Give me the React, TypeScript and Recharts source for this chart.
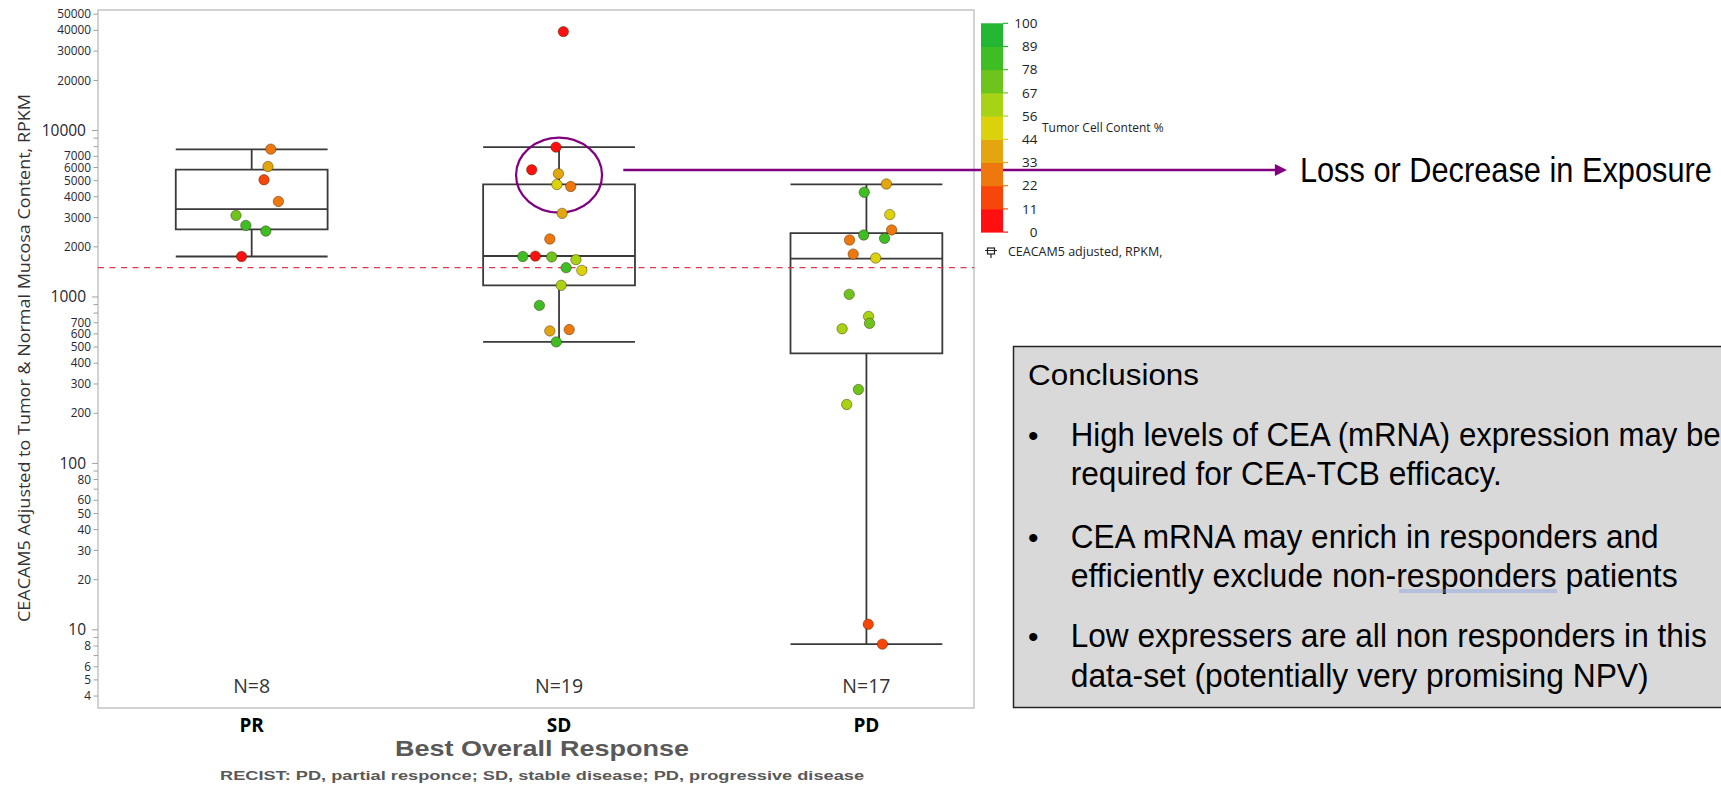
import React from "react";
import {
  ComposedChart,
  Scatter,
  XAxis,
  YAxis,
  ReferenceArea,
  ReferenceLine,
  ReferenceDot,
  Legend,
} from "recharts";

const CATEGORIES = ["PR", "SD", "PD"];

// CEACAM5 adjusted RPKM per patient, tumor cell content % and horizontal jitter (category units)
const PR_VALUES = [7730, 6080, 5060, 3750, 3090, 2690, 2490, 1750];
const PR_TCC = [28, 38, 15, 27, 72, 85, 82, 5];
const PR_JITTER = [0.062, 0.053, 0.04, 0.087, -0.051, -0.019, 0.046, -0.033];

const SD_VALUES = [39300, 7950, 5810, 5500, 4740, 4610, 3180, 2230, 1750, 1760, 1740, 1675, 1500, 1445, 1175, 890, 625, 637, 537];
const SD_TCC = [5, 3, 5, 40, 50, 27, 38, 26, 85, 4, 72, 60, 85, 50, 62, 85, 38, 28, 85];
const SD_JITTER = [0.014, -0.01, -0.089, -0.002, -0.007, 0.038, 0.01, -0.03, -0.118, -0.077, -0.024, 0.055, 0.023, 0.074, 0.007, -0.064, -0.03, 0.033, -0.009];

const PD_VALUES = [4775, 4256, 3126, 2528, 2357, 2250, 2199, 1810, 1714, 1037, 764, 694, 644, 278, 226, 10.8, 8.2];
const PD_TCC = [38, 85, 50, 27, 85, 83, 27, 28, 50, 72, 60, 72, 60, 72, 60, 15, 15];
const PD_JITTER = [0.065, -0.007, 0.076, 0.082, -0.009, 0.059, -0.055, -0.043, 0.03, -0.056, 0.007, 0.01, -0.079, -0.026, -0.064, 0.006, 0.052];

// box plot summaries
const WHISKER_LOW = [1750, 537, 8.2];
const Q1 = [2545, 1174, 458];
const MEDIAN = [3375, 1763, 1698];
const Q3 = [5830, 4743, 2421];
const WHISKER_HIGH = [7700, 7950, 4750];

const THRESHOLD = 1500;

// axis ticks
const Y_TICKS = [
  4, 5, 6, 7, 8, 9, 10, 20, 30, 40, 50, 60, 70, 80, 90, 100, 200, 300, 400, 500, 600, 700, 800, 900,
  1000, 2000, 3000, 4000, 5000, 6000, 7000, 8000, 9000, 10000, 20000, 30000, 40000, 50000,
];
const Y_UNLABELED = [7, 9, 70, 90, 800, 900, 8000, 9000];
const Y_MAJOR = [10, 100, 1000, 10000];

// colour scale for tumor cell content
const TCC_EDGES = [0, 11, 22, 33, 44, 56, 67, 78, 89, 100];
const TCC_COLORS = ["#ff0f0f", "#f8460b", "#ee770e", "#e4a60f", "#dbd20b", "#a8d214", "#6cc41c", "#3ebd25", "#22b632"];

const SANS = '"Open Sans", "Noto Sans", sans-serif';
const NARROW = '"Liberation Sans Narrow", "Liberation Sans", Arial, sans-serif';
const ARIAL = '"Liberation Sans", Arial, sans-serif';

const BOX_HALF = 0.247;

const tccColor = (t: number) => {
  for (let i = 0; i < TCC_COLORS.length; i++) {
    if (t < TCC_EDGES[i + 1]) return TCC_COLORS[i];
  }
  return TCC_COLORS[TCC_COLORS.length - 1];
};

const groups = [
  { values: PR_VALUES, tcc: PR_TCC, jitter: PR_JITTER },
  { values: SD_VALUES, tcc: SD_TCC, jitter: SD_JITTER },
  { values: PD_VALUES, tcc: PD_TCC, jitter: PD_JITTER },
];

const points = groups.flatMap((g, gi) =>
  g.values.map((v, i) => ({ x: gi + 1 + g.jitter[i], y: v, tcc: g.tcc[i] }))
);

const YTick = (props: any) => {
  const { x, y, payload } = props;
  const v = payload.value;
  const major = Y_MAJOR.includes(v);
  return (
    <g>
      <line x1={x - (major ? 6 : 4.5)} x2={x} y1={y} y2={y} stroke="#a0a0a0" strokeWidth={1} />
      {!Y_UNLABELED.includes(v) && (
        <text
          x={x - (major ? 12 : 7)}
          y={y}
          dy="0.35em"
          textAnchor="end"
          fontSize={major ? 15.5 : 11.8}
          fontFamily={SANS}
          fill="#262630"
        >
          {v}
        </text>
      )}
    </g>
  );
};

const XTick = (props: any) => {
  const { x, y, payload } = props;
  return (
    <text x={x} y={y + 17} dy="0.35em" textAnchor="middle" fontSize={19} fontWeight="bold" fontFamily={SANS} fill="#000">
      {CATEGORIES[payload.value - 1]}
    </text>
  );
};

const Dot = (props: any) => {
  const { cx, cy, payload } = props;
  return (
    <circle cx={cx} cy={cy} r={5.2} fill={tccColor(payload.tcc)} stroke="rgba(60,40,0,0.45)" strokeWidth={1} />
  );
};

const ColorBar = () => {
  const top = 23.3;
  const binH = 23.2;
  const n = TCC_COLORS.length;
  return (
    <svg width={260} height={270} style={{ display: "block" }}>
      {TCC_COLORS.map((c, i) => (
        <rect key={"b" + i} x={21} y={top + (n - 1 - i) * binH} width={22} height={binH + 0.5} fill={c} />
      ))}
      {TCC_EDGES.map((e, j) => {
        const yy = top + (n - j) * binH;
        const c = TCC_COLORS[Math.min(j, n - 1)];
        return (
          <g key={"t" + j}>
            <line x1={43} x2={48} y1={yy} y2={yy} stroke={c} strokeWidth={1.2} />
            <text x={77.5} y={yy} dy="0.35em" textAnchor="end" fontSize={13.5} fontFamily={SANS} fill="#222">
              {e}
            </text>
          </g>
        );
      })}
      <text x={82} y={128} dy="0.35em" fontSize={12} fontFamily={SANS} fill="#222">
        Tumor Cell Content %
      </text>
      <rect x={27.5} y={248} width={7} height={6} fill="none" stroke="#222" strokeWidth={1.2} />
      <line x1={31} x2={31} y1={254} y2={258} stroke="#222" strokeWidth={1.2} />
      <line x1={25} x2={37} y1={250.5} y2={250.5} stroke="#222" strokeWidth={1} />
      <text x={48} y={252} dy="0.35em" fontSize={12.5} fontFamily={SANS} fill="#222">
        CEACAM5 adjusted, RPKM,
      </text>
    </svg>
  );
};

const ArrowShape = (props: any) => {
  const { x1, y1, x2, y2 } = props;
  return (
    <g>
      <line x1={x1} y1={y1} x2={x2 - 8} y2={y2} stroke="#800080" strokeWidth={2.6} />
      <polygon points={`${x2},${y2} ${x2 - 12},${y2 - 6} ${x2 - 12},${y2 + 6}`} fill="#800080" />
      <text
        x={x2 + 13}
        y={y2 + 12}
        fontSize={35}
        fontFamily={NARROW}
        fill="#000"
        textLength={412}
        lengthAdjust="spacingAndGlyphs"
      >
        Loss or Decrease in Exposure
      </text>
    </g>
  );
};

const EllipseShape = (props: any) => {
  const { cx, cy } = props;
  return <ellipse cx={cx} cy={cy} rx={43} ry={37.5} fill="none" stroke="#800080" strokeWidth={2.2} />;
};

const conclusionLines = [
  { text: "High levels of CEA (mRNA) expression may be", y: 445.7, w: 650, bullet: true },
  { text: "required for CEA-TCB efficacy.", y: 485, w: 431, bullet: false },
  { text: "CEA mRNA may enrich in responders and", y: 548.3, w: 588, bullet: true },
  { text: "efficiently exclude non-responders patients", y: 587.3, w: 607, bullet: false },
  { text: "Low expressers are all non responders in this", y: 646.7, w: 636, bullet: true },
  { text: "data-set (potentially very promising NPV)", y: 686.7, w: 578, bullet: false },
];

export default function App() {
  return (
    <div style={{ position: "absolute", left: 0, top: 0, width: 1721, height: 785, background: "#fff", overflow: "hidden" }}>
      <ComposedChart width={1721} height={785} margin={{ top: 10, right: 747, bottom: 0, left: 0 }}>
        <XAxis
          type="number"
          dataKey="x"
          domain={[0.5, 3.35]}
          ticks={[1, 2, 3]}
          allowDataOverflow
          height={77}
          axisLine={false}
          tickLine={false}
          tickSize={0}
          tickMargin={0}
          interval={0}
          tick={<XTick />}
          label={{
            content: () => (
              <g>
                <text x={542} y={756} textAnchor="middle" fontSize={22} fontWeight="bold" fontFamily={ARIAL} fill="#595959" textLength={294} lengthAdjust="spacingAndGlyphs">
                  Best Overall Response
                </text>
                <text x={542} y={780} textAnchor="middle" fontSize={13} fontWeight="bold" fontFamily={ARIAL} fill="#595959" textLength={644} lengthAdjust="spacingAndGlyphs">
                  RECIST: PD, partial responce; SD, stable disease; PD, progressive disease
                </text>
              </g>
            ),
          }}
        />
        <YAxis
          type="number"
          dataKey="y"
          scale="log"
          domain={[3.39, 53000]}
          allowDataOverflow
          ticks={Y_TICKS}
          interval={0}
          width={98}
          axisLine={false}
          tickLine={false}
          tickSize={0}
          tickMargin={0}
          tick={<YTick />}
          label={{
            content: () => (
              <text
                x={24}
                y={358}
                transform="rotate(-90 24 358)"
                textAnchor="middle"
                dy="0.35em"
                fontSize={16}
                fontFamily={SANS}
                fill="#333"
                textLength={528}
                lengthAdjust="spacingAndGlyphs"
              >
                CEACAM5 Adjusted to Tumor &amp; Normal Mucosa Content,  RPKM
              </text>
            ),
          }}
        />
        <ReferenceArea x1={0.5} x2={3.35} y1={3.39} y2={53000} fill="none" stroke="#c4c4c4" strokeWidth={1.5} ifOverflow="visible" />
        <ReferenceLine y={THRESHOLD} stroke="#dc3a4c" strokeWidth={1.4} strokeDasharray="6 5.5" />

        {CATEGORIES.map((_, i) => (
          <ReferenceArea
            key={"box" + i}
            x1={i + 1 - BOX_HALF}
            x2={i + 1 + BOX_HALF}
            y1={Q1[i]}
            y2={Q3[i]}
            fill="none"
            stroke="#3a3a3a"
            strokeWidth={1.8}
            fillOpacity={0}
          />
        ))}
        {CATEGORIES.map((_, i) => (
          <ReferenceLine key={"med" + i} segment={[{ x: i + 1 - BOX_HALF, y: MEDIAN[i] }, { x: i + 1 + BOX_HALF, y: MEDIAN[i] }]} stroke="#3a3a3a" strokeWidth={1.8} />
        ))}
        {CATEGORIES.map((_, i) => (
          <ReferenceLine key={"wh" + i} segment={[{ x: i + 1, y: Q3[i] }, { x: i + 1, y: WHISKER_HIGH[i] }]} stroke="#3a3a3a" strokeWidth={1.8} />
        ))}
        {CATEGORIES.map((_, i) => (
          <ReferenceLine key={"wl" + i} segment={[{ x: i + 1, y: Q1[i] }, { x: i + 1, y: WHISKER_LOW[i] }]} stroke="#3a3a3a" strokeWidth={1.8} />
        ))}
        {CATEGORIES.map((_, i) => (
          <ReferenceLine key={"ch" + i} segment={[{ x: i + 1 - BOX_HALF, y: WHISKER_HIGH[i] }, { x: i + 1 + BOX_HALF, y: WHISKER_HIGH[i] }]} stroke="#3a3a3a" strokeWidth={1.8} />
        ))}
        {CATEGORIES.map((_, i) => (
          <ReferenceLine key={"cl" + i} segment={[{ x: i + 1 - BOX_HALF, y: WHISKER_LOW[i] }, { x: i + 1 + BOX_HALF, y: WHISKER_LOW[i] }]} stroke="#3a3a3a" strokeWidth={1.8} />
        ))}
        {CATEGORIES.map((_, i) => (
          <ReferenceDot
            key={"n" + i}
            x={i + 1}
            y={4.6}
            r={0}
            shape={(p: any) => (
              <text x={p.cx} y={p.cy} dy="0.35em" textAnchor="middle" fontSize={19.5} fontFamily={SANS} fill="#333">
                N={groups[i].values.length}
              </text>
            )}
          />
        ))}

        <ReferenceDot x={2} y={5400} r={40} shape={<EllipseShape />} ifOverflow="visible" />
        <ReferenceLine
          segment={[{ x: 2.209, y: 5790 }, { x: 4.368, y: 5790 }]}
          ifOverflow="visible"
          shape={<ArrowShape />}
        />

        <Scatter data={points} shape={<Dot />} isAnimationActive={false} />

        <Legend
          layout="horizontal"
          verticalAlign="middle"
          content={<ColorBar />}
          wrapperStyle={{ position: "absolute", left: 960, top: 0, width: 260, height: 270 }}
        />
      </ComposedChart>

      <svg width={1721} height={785} style={{ position: "absolute", left: 0, top: 0, pointerEvents: "none" }}>
        <rect x={1013.5} y={346.5} width={740} height={361} fill="#d9d9d9" stroke="#262626" strokeWidth={1.5} />
        <text x={1028} y={385} fontSize={30} fontFamily={NARROW} fill="#000" textLength={171} lengthAdjust="spacingAndGlyphs">
          Conclusions
        </text>
        {conclusionLines.map((l, i) => (
          <g key={i}>
            {l.bullet && (
              <text x={1028} y={l.y} fontSize={30} fontFamily={ARIAL} fill="#000">
                •
              </text>
            )}
            <text x={1070.7} y={l.y} fontSize={33} fontFamily={NARROW} fill="#000" textLength={l.w} lengthAdjust="spacingAndGlyphs">
              {l.text}
            </text>
          </g>
        ))}
        <line x1={1399} x2={1557} y1={590} y2={590} stroke="#7d9be0" strokeWidth={0.8} />
        <line x1={1399} x2={1557} y1={592} y2={592} stroke="#7d9be0" strokeWidth={0.8} />
      </svg>
    </div>
  );
}
